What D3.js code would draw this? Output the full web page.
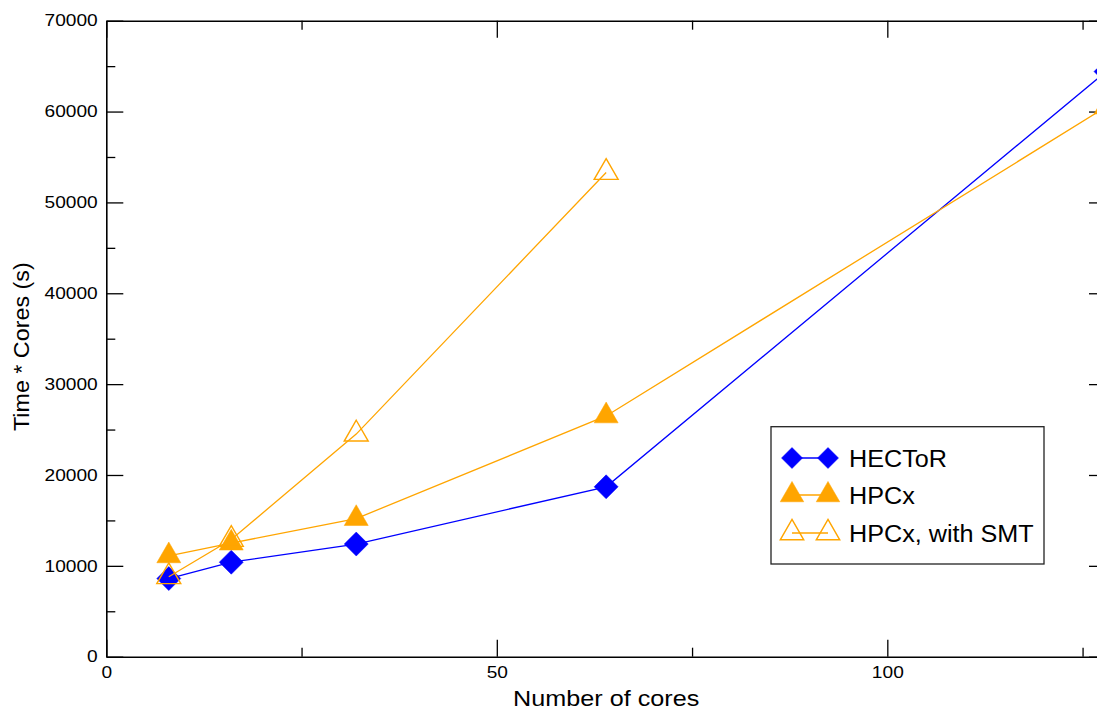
<!DOCTYPE html>
<html>
<head>
<meta charset="utf-8">
<script src="https://cdn.jsdelivr.net/npm/d3@7"></script>
<style>
  body { margin: 0; background: #fff; }
  svg { display: block; font-family: "Liberation Sans", Arial, sans-serif; }
</style>
</head>
<body>
<div id="chart"></div>
<script>
// data
var cores = [8, 16, 32, 64, 128];
var hector = [8600, 10400, 12400, 18700, 64400];
var hpcx = [11100, 12500, 15200, 26500, 60500];
var smtCores = [8, 16, 32, 64];
var hpcxSmt = [8800, 12900, 24500, 53300];

var xMajor = [0, 50, 100];
var xMinor = [25, 75, 125];
var yMajor = [0, 10000, 20000, 30000, 40000, 50000, 60000, 70000];
var yMinor = [5000, 15000, 25000, 35000, 45000, 55000, 65000];

var legendNames = ["HECToR", "HPCx", "HPCx, with SMT"];

// sizes (plot edges)
var width = 1097, height = 710;
var plotLeft = 106.3, plotRight = 1106, plotTop = 20.7, plotBottom = 656.7;
var stretch = 1.16;
var blue = "#0000ff", orange = "#ffa500";

var svg = d3.select("#chart").append("svg")
    .attr("width", width)
    .attr("height", height);

var x = d3.scaleLinear().domain([0, 128]).range([plotLeft, plotRight]);
var y = d3.scaleLinear().domain([0, 70000]).range([plotBottom, plotTop]);

//marker shapes
function diamond(r){
    return "M0," + (-r) + "L" + r + ",0L0," + r + "L" + (-r) + ",0Z";
}
function triangle(s){
    var h = s * Math.sqrt(3) / 2;
    return "M0," + (-2 * h / 3) + "L" + (s / 2) + "," + (h / 3) + "L" + (-s / 2) + "," + (h / 3) + "Z";
}

//axes: ticks all point into the plot
function styleAxis(g){
    g.select(".domain").attr("stroke", "#000").attr("stroke-width", 1.6);
    g.selectAll(".tick line").attr("stroke", "#000").attr("stroke-width", 1.3);
}
function styleLabels(g){
    g.attr("font-size", 16.5).attr("font-family", "Liberation Sans, Arial, sans-serif");
    g.selectAll("text")
        .attr("fill", "#000")
        .attr("transform", "scale(" + stretch + ",1)");
}

// bottom
svg.append("g")
    .attr("transform", "translate(0," + plotBottom + ")")
    .call(d3.axisBottom(x).tickValues(xMajor).tickSize(-17).tickPadding(10).tickSizeOuter(0))
    .call(styleAxis)
    .call(styleLabels);
svg.append("g")
    .attr("transform", "translate(0," + plotBottom + ")")
    .call(d3.axisBottom(x).tickValues(xMinor).tickSize(-9).tickFormat("").tickSizeOuter(0))
    .call(styleAxis)
    .call(function(g){ g.select(".domain").remove(); });

// top
svg.append("g")
    .attr("transform", "translate(0," + plotTop + ")")
    .call(d3.axisTop(x).tickValues(xMajor).tickSize(-17).tickFormat("").tickSizeOuter(0))
    .call(styleAxis);
svg.append("g")
    .attr("transform", "translate(0," + plotTop + ")")
    .call(d3.axisTop(x).tickValues(xMinor).tickSize(-9).tickFormat("").tickSizeOuter(0))
    .call(styleAxis)
    .call(function(g){ g.select(".domain").remove(); });

// left
svg.append("g")
    .attr("transform", "translate(" + plotLeft + ",0)")
    .call(d3.axisLeft(y).tickValues(yMajor).tickSize(-17).tickPadding(0).tickSizeOuter(0).tickFormat(d3.format("d")))
    .call(styleAxis)
    .call(styleLabels)
    .call(function(g){
        g.selectAll("text").attr("x", -8.6 / stretch);
    });
svg.append("g")
    .attr("transform", "translate(" + plotLeft + ",0)")
    .call(d3.axisLeft(y).tickValues(yMinor).tickSize(-9).tickFormat("").tickSizeOuter(0))
    .call(styleAxis)
    .call(function(g){ g.select(".domain").remove(); });

// right
svg.append("g")
    .attr("transform", "translate(" + plotRight + ",0)")
    .call(d3.axisRight(y).tickValues(yMajor).tickSize(-17).tickFormat("").tickSizeOuter(0))
    .call(styleAxis);
svg.append("g")
    .attr("transform", "translate(" + plotRight + ",0)")
    .call(d3.axisRight(y).tickValues(yMinor).tickSize(-9).tickFormat("").tickSizeOuter(0))
    .call(styleAxis)
    .call(function(g){ g.select(".domain").remove(); });

// axis titles
svg.append("text")
    .attr("transform", "translate(" + ((plotLeft + plotRight) / 2) + ",706) scale(1.12,1)")
    .attr("text-anchor", "middle")
    .attr("font-size", 22.5)
    .text("Number of cores");

svg.append("text")
    .attr("transform", "translate(29," + ((plotTop + plotBottom) / 2 + 8) + ") rotate(-90) scale(1.06,1)")
    .attr("text-anchor", "middle")
    .attr("font-size", 22)
    .text("Time * Cores (s)");

//series
var line = d3.line()
    .x(function(d){ return x(d[0]); })
    .y(function(d){ return y(d[1]); });

var series = [
    {pts: d3.zip(cores, hector), color: blue, shape: diamond(12), fill: blue},
    {pts: d3.zip(cores, hpcx), color: orange, shape: triangle(24), fill: orange},
    {pts: d3.zip(smtCores, hpcxSmt), color: orange, shape: triangle(24), fill: "none"}
];

series.forEach(function(s){
    svg.append("path")
        .datum(s.pts)
        .attr("d", line)
        .attr("fill", "none")
        .attr("stroke", s.color)
        .attr("stroke-width", 1.3);

    svg.selectAll(null)
        .data(s.pts)
        .enter()
        .append("path")
            .attr("d", s.shape)
            .attr("transform", function(d){
                return "translate(" + x(d[0]) + "," + y(d[1]) + ")";
            })
            .attr("fill", s.fill)
            .attr("stroke", s.color)
            .attr("stroke-width", s.fill == "none" ? 1.4 : 0.5);
});

//legend
var legend = svg.append("g");
legend.append("rect")
    .attr("x", 771)
    .attr("y", 426.7)
    .attr("width", 273)
    .attr("height", 137.3)
    .attr("fill", "#fff")
    .attr("stroke", "#222")
    .attr("stroke-width", 1.3);

var legendShapes = [diamond(10.5), triangle(23.5), triangle(23.5)];
var rowY = [458, 495, 533];

legendNames.forEach(function(name, i){
    var s = series[i];
    var g = legend.append("g").attr("transform", "translate(0," + rowY[i] + ")");
    g.append("line")
        .attr("x1", 792).attr("x2", 828)
        .attr("y1", 0).attr("y2", 0)
        .attr("stroke", s.color)
        .attr("stroke-width", 1.3);
    [792, 828].forEach(function(mx){
        g.append("path")
            .attr("d", legendShapes[i])
            .attr("transform", "translate(" + mx + ",0)")
            .attr("fill", s.fill)
            .attr("stroke", s.color)
            .attr("stroke-width", s.fill == "none" ? 1.4 : 0.5);
    });
    g.append("text")
        .attr("transform", "translate(849,8.6) scale(1.05,1)")
        .attr("font-size", 24)
        .text(name);
});
</script>
</body>
</html>
